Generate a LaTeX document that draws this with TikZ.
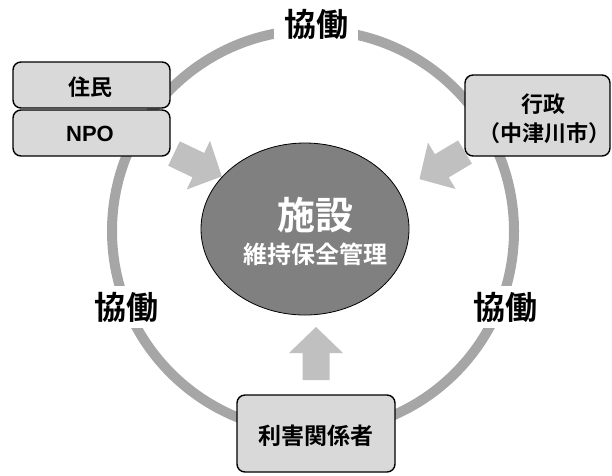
\documentclass[tikz,border=0pt]{standalone}
\usepackage{fontspec}
\setmainfont{Liberation Sans}
\newfontfamily\cjkb{Noto Sans CJK JP Bold}
\definecolor{ringgray}{HTML}{A6A6A6}
\definecolor{arrowgray}{HTML}{C0C0C0}
\definecolor{boxgray}{HTML}{D9D9D9}
\definecolor{ellgray}{HTML}{808080}
\tikzset{
  ring/.style={draw=ringgray, line width=10pt},
  collab/.style={fill=white, inner xsep=10pt, inner ysep=6pt, font=\cjkb\fontsize{32}{34}\selectfont},
  actor/.style={draw=black, line width=1.4pt, fill=boxgray, rounded corners=8pt},
  boxtext/.style={font=\cjkb\fontsize{22}{24}\selectfont, inner sep=0pt},
  blockarrow/.style={fill=arrowgray, draw=none},
}
\begin{document}
\begin{tikzpicture}[x=1pt,y=-1pt]
\useasboundingbox (0,0) rectangle (612,475);
% ring
\draw[ring] (313,231) circle[radius=201pt];
\node[collab] (ktop) at (316,24) {協働};
\node[collab] (kleft) at (126,307) {協働};
\node[collab] (kright) at (505,307) {協働};
% actor boxes
\draw[actor] (13,62) rectangle (170,108);
\draw[actor] (13,110) rectangle (170,156);
\node[boxtext] (jumin) at (90,87) {住民};
\node[boxtext, font=\bfseries\fontsize{22}{24}\selectfont] (npo) at (90,134) {NPO};
\draw[actor] (465,75) rectangle (610,156);
\node[boxtext] (gyosei) at (543,104) {行政};
\node[boxtext] (city) at (544,133) {（中津川市）};
\draw[actor] (237,395) rectangle (395,472);
\node[boxtext, font=\cjkb\fontsize{23}{25}\selectfont] (stake) at (316,436) {利害関係者};
% block arrows
\begin{scope}[shift={(174,153.5)}, rotate=-25.6]
  \fill[blockarrow] (0,-13.5) -- (27,-13.5) -- (27,-27) -- (53,0) -- (27,27) -- (27,13.5) -- (0,13.5) -- cycle;
\end{scope}
\begin{scope}[shift={(465,152)}, rotate=-149.2]
  \fill[blockarrow] (0,-13.5) -- (27,-13.5) -- (27,-27) -- (53,0) -- (27,27) -- (27,13.5) -- (0,13.5) -- cycle;
\end{scope}
\begin{scope}[shift={(316,380)}, rotate=90]
  \fill[blockarrow] (0,-13.5) -- (27,-13.5) -- (27,-27) -- (53,0) -- (27,27) -- (27,13.5) -- (0,13.5) -- cycle;
\end{scope}
% center ellipse
\draw[fill=ellgray, line width=0.8pt] (305,229) ellipse[x radius=104pt, y radius=86pt];
\node[text=white, font=\cjkb\fontsize{38}{40}\selectfont, inner sep=0pt] (shisetsu) at (315,215) {施設};
\node[text=white, font=\cjkb\fontsize{24}{26}\selectfont, inner sep=0pt] (iji) at (315,254) {維持保全管理};
\end{tikzpicture}
\end{document}
